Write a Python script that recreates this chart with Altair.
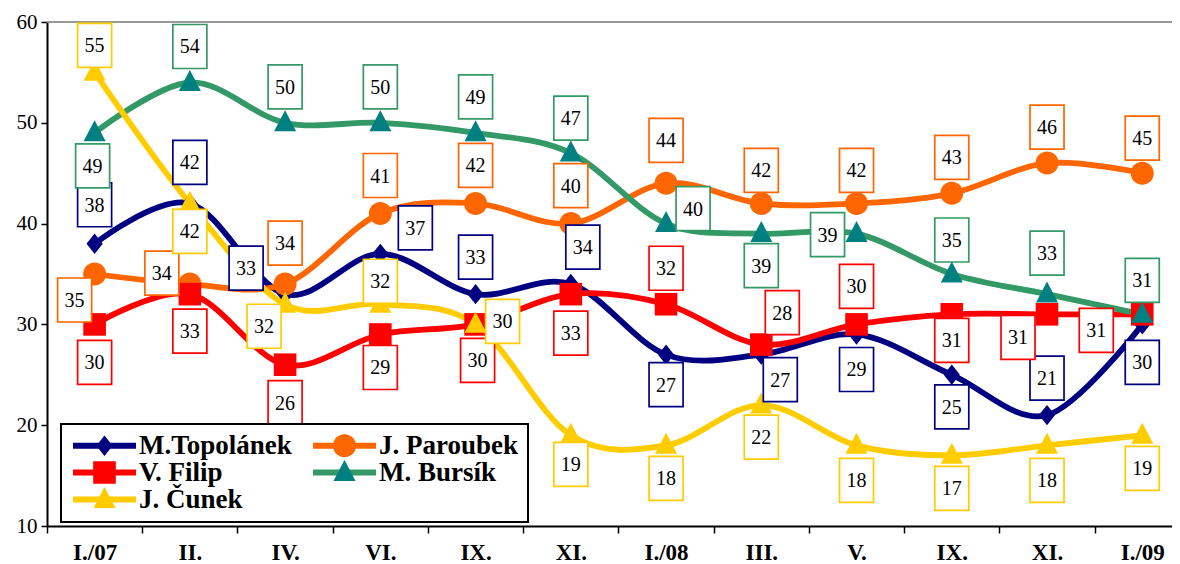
import json
import altair as alt
import pandas as pd

# ---------------- data ----------------
categories = ["I./07", "II.", "IV.", "VI.", "IX.", "XI.", "I./08", "III.", "V.", "IX.", "XI.", "I./09"]
series_names = ["M.Topolánek", "J. Paroubek", "V. Filip", "M. Bursík", "J. Čunek"]
topolanek = [38, 42, 33, 37, 33, 34, 27, 27, 29, 25, 21, 30]
paroubek = [35, 34, 34, 41, 42, 40, 44, 42, 42, 43, 46, 45]
filip = [30, 33, 26, 29, 30, 33, 32, 28, 30, 31, 31, 31]
bursik = [49, 54, 50, 50, 49, 47, 40, 39, 39, 35, 33, 31]
cunek = [55, 42, 32, 32, 30, 19, 18, 22, 18, 17, 18, 19]
series_values = [topolanek, paroubek, filip, bursik, cunek]

# ---------------- styling / layout ----------------
line_colors = ["#000080", "#FF6600", "#FF0000", "#339966", "#FFCC00"]
marker_colors = ["#000080", "#FF6600", "#FF0000", "#008080", "#FFCC00"]
marker_paths = [
    "M0,-0.324L0.257,0L0,0.324L-0.257,0Z",
    "M-0.365,0A0.365,0.365,0,1,0,0.365,0A0.365,0.365,0,1,0,-0.365,0Z",
    "M-0.359,-0.359L0.359,-0.359L0.359,0.359L-0.359,0.359Z",
    "M0,-0.40L0.35,0.267L-0.35,0.267Z",
    "M0,-0.40L0.35,0.267L-0.35,0.267Z",
]
MARKER_SIZE = 3969
box_path = "M-0.773,-1L0.773,-1L0.773,1L-0.773,1Z"

# label box offsets from the marker, in pixels (dx right, dy down)
label_offsets = [
    [(0, -39), (0, -41), (-39, -26), (35, -26), (0, -37), (12, -37), (0, 30), (19, 25), (0, 35), (0, 32), (0, -37), (0, 38)],
    [(-20, 26), (-28, -11), (0, -41), (0, -38), (0, -38), (0, -38), (0, -43), (0, -33), (0, -33), (0, -36), (0, -36), (0, -35)],
    [(0, 38), (0, 37), (0, 38), (0, 33), (2, 36), (0, 39), (0, -36), (21, -32), (0, -38), (0, 26), (-29, 23), (-46, 16)],
    [(-2, 33), (0, -36), (0, -36), (0, -36), (0, -36), (0, -35), (27, -15), (0, 32), (-29, 1), (0, -34), (0, -41), (0, -34)],
    [(0, -27), (0, 28), (-21, 22), (0, -23), (27, -3), (0, 29), (0, 33), (0, 32), (0, 35), (0, 33), (0, 35), (0, 33)],
]

W, H = 1125, 504
BAND = 95.24
XMAX = -0.5 + W / BAND
PX_Y = H / 50.0
SERIF = "Liberation Serif"

rows = []
for name, vals, offs in zip(series_names, series_values, label_offsets):
    for i, v in enumerate(vals):
        rows.append({"series": name, "idx": i, "value": v,
                     "dx": offs[i][0], "dy": offs[i][1]})
df = pd.DataFrame(rows)

xscale = alt.Scale(domain=[-0.5, XMAX], nice=False, zero=False)
yscale = alt.Scale(domain=[10, 60], nice=False, zero=False)

label_expr = json.dumps(categories) + "[datum.value]"

x_axis = alt.Axis(
    values=list(range(12)), labelExpr=label_expr, title=None, grid=False,
    tickOffset=-BAND / 2, labelOffset=BAND / 2, tickSize=7, tickColor="black", tickWidth=1.5,
    domainColor="black", domainWidth=2, labelFont=SERIF, labelFontSize=23,
    labelFontWeight="bold", labelColor="black", labelPadding=8,
    labelOverlap=False, labelFlush=False, labelBound=False,
)
y_axis = alt.Axis(
    values=[10, 20, 30, 40, 50, 60], title=None, grid=False, tickSize=6, tickColor="black",
    tickWidth=1.5, domainColor="black", domainWidth=2, labelFont=SERIF, labelFontSize=21,
    labelColor="black", labelPadding=4,
)

common_legend = dict(
    orient="none", legendX=14, legendY=402, columns=2, direction="horizontal", title=None,
    symbolSize=MARKER_SIZE, symbolStrokeWidth=6, clipHeight=25, rowPadding=-1,
    columnPadding=18, labelFont=SERIF, labelFontSize=27, labelFontWeight="bold",
    labelColor="black", labelOffset=0, padding=9, symbolOpacity=1, labelLimit=400,
    values=series_names,
)

line_legend = alt.Legend(symbolType="stroke", fillColor="white", strokeColor="black", **common_legend)
marker_legend = alt.Legend(symbolStrokeColor="transparent", labelOpacity=0, **common_legend)

# the stroke scale gets one unused extra domain entry so that its legend stays separate
stroke_scale = alt.Scale(domain=series_names + ["-"], range=line_colors + ["#ffffff"])
fill_scale = alt.Scale(domain=series_names, range=marker_colors)
shape_scale = alt.Scale(domain=series_names, range=marker_paths)

base = alt.Chart(df)

top_rule = alt.Chart(pd.DataFrame({"v": [60]})).mark_rule(color="#999999", strokeWidth=2).encode(
    y=alt.Y("v:Q", scale=yscale, axis=y_axis)
)

lines = base.mark_line(interpolate="cardinal", strokeWidth=5.8, strokeJoin="round").encode(
    x=alt.X("idx:Q", scale=xscale, axis=x_axis),
    y=alt.Y("value:Q", scale=yscale, axis=y_axis),
    stroke=alt.Stroke("series:N", scale=stroke_scale, legend=line_legend),
)

points = base.mark_point(filled=True, size=MARKER_SIZE, opacity=1, strokeWidth=0).encode(
    x=alt.X("idx:Q", scale=xscale, axis=x_axis),
    y=alt.Y("value:Q", scale=yscale, axis=y_axis),
    fill=alt.Fill("series:N", scale=fill_scale, legend=marker_legend),
    shape=alt.Shape("series:N", scale=shape_scale, legend=marker_legend),
)

labelled = base.transform_calculate(
    lx=f"datum.idx + datum.dx / {BAND}",
    ly=f"datum.value - datum.dy / {PX_Y}",
)

boxes = labelled.mark_point(shape=box_path, size=1936, filled=False, fill="white",
                            fillOpacity=1, opacity=1, strokeWidth=1.7).encode(
    x=alt.X("lx:Q", scale=xscale, axis=x_axis),
    y=alt.Y("ly:Q", scale=yscale, axis=y_axis),
    stroke=alt.Stroke("series:N", scale=stroke_scale, legend=None),
)

texts = labelled.mark_text(font=SERIF, fontSize=20, color="black", align="center",
                           baseline="middle", dy=1).encode(
    x=alt.X("lx:Q", scale=xscale, axis=x_axis),
    y=alt.Y("ly:Q", scale=yscale, axis=y_axis),
    text=alt.Text("value:Q"),
)

chart = alt.layer(top_rule, lines, points, boxes, texts).properties(
    width=W, height=H,
    autosize=alt.AutoSizeParams(type="none"),
    padding={"left": 39, "top": 14, "right": 0, "bottom": 40},
    background="white",
).configure_view(strokeWidth=0).configure_legend(strokeWidth=2)

chart.save("out.html", embed_options={"renderer": "svg", "actions": False})
